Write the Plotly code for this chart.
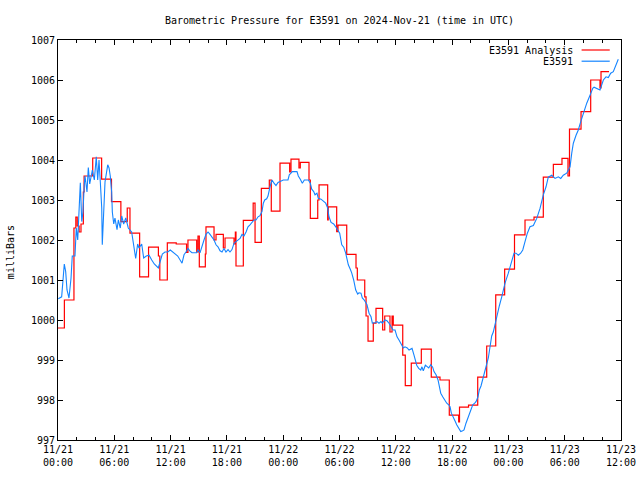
import pandas as pd
import plotly.graph_objects as go

START = pd.Timestamp("2024-11-21 00:00")

# E3591 observed pressure (hours since 2024-11-21 00:00 UTC, millibars)
blue_hours = [0.03, 0.39, 0.67, 0.82, 0.96, 1.17, 1.39, 1.52, 1.81, 1.95, 2.1, 2.24, 2.38, 2.53, 2.66, 2.8, 2.88,
              3.09, 3.23, 3.38, 3.52, 3.66, 3.87, 4.08, 4.23, 4.37, 4.51, 4.66, 4.72, 4.87, 5.01, 5.3, 5.44, 5.57,
              5.72, 5.79, 5.94, 6.07, 6.29, 6.43, 6.64, 6.79, 7.0, 7.22, 7.49, 7.85, 8.07, 8.28, 8.49, 8.63, 8.92,
              9.13, 9.41, 9.7, 9.99, 10.26, 10.69, 10.9, 11.12, 11.4, 11.69, 11.97, 12.44, 12.76, 13.22, 13.43,
              13.64, 13.85, 14.07, 14.28, 14.78, 14.92, 15.13, 15.35, 15.56, 15.77, 15.99, 16.2, 16.41, 16.63,
              16.84, 17.05, 17.27, 17.48, 17.69, 17.9, 18.12, 18.33, 18.54, 18.76, 18.97, 19.18, 19.4, 19.61,
              19.82, 20.04, 20.25, 20.46, 20.68, 20.89, 21.1, 21.32, 21.53, 21.74, 21.88, 22.03, 22.24, 22.38,
              22.59, 22.81, 23.02, 23.23, 23.45, 23.66, 24.01, 24.51, 24.65, 24.83, 24.97, 25.47, 25.61, 25.82,
              26.04, 26.25, 26.68, 26.89, 27.04, 27.25, 27.39, 27.6, 27.74, 28.03, 28.32, 28.53, 28.74, 28.88,
              29.1, 29.38, 29.6, 29.81, 30.02, 30.24, 30.45, 30.66, 30.8, 30.94, 31.15, 31.3, 31.51, 31.73,
              31.94, 32.08, 32.29, 32.43, 32.64, 32.93, 33.15, 33.36, 33.5, 33.78, 34.0, 34.21, 34.42, 34.56,
              34.85, 35.06, 35.28, 35.49, 35.7, 35.92, 36.13, 36.34, 36.56, 36.8, 36.98, 37.22, 37.41, 37.73,
              37.94, 38.08, 38.23, 38.44, 38.66, 38.79, 38.93, 39.15, 39.36, 39.51, 39.72, 39.93, 40.07, 40.29,
              40.5, 40.64, 40.79, 41.0, 41.21, 41.43, 41.64, 41.78, 41.92, 42.13, 42.34, 42.49, 42.71, 42.92,
              43.13, 43.27, 43.48, 43.62, 43.83, 44.05, 44.2, 44.41, 44.55, 44.76, 44.9, 45.08, 45.33, 45.51,
              45.69, 45.86, 46.04, 46.22, 46.39, 46.54, 46.75, 47.03, 47.29, 47.64, 47.99, 48.35, 48.6, 48.81,
              49.06, 49.31, 49.53, 49.77, 50.02, 50.3, 50.66, 51.02, 51.37, 51.72, 52.01, 52.25, 52.62, 52.97,
              53.32, 53.58, 53.85, 54.21, 54.57, 54.75, 54.92, 55.21, 55.45, 55.71, 55.98, 56.35, 56.7, 56.99,
              57.13, 57.41, 57.76, 58.12, 58.4, 58.65, 58.9, 59.18, 59.47, 59.71]
blue_mb = [1000.53, 1000.58, 1001.4, 1001.21, 1000.75, 1000.55, 1001.05, 1001.6, 1001.6, 1002.3, 1002.0, 1002.8,
           1003.43, 1002.46, 1002.7, 1003.38, 1003.6, 1003.2, 1003.81, 1003.4, 1003.6, 1003.75, 1003.5, 1004.08,
           1003.5, 1004.0, 1003.45, 1002.8, 1001.88, 1002.6, 1003.45, 1003.88, 1003.8, 1003.6, 1003.2, 1002.7,
           1002.4, 1002.55, 1002.26, 1002.5, 1002.3, 1002.6, 1002.4, 1002.55, 1002.3, 1002.2, 1001.9, 1001.54,
           1001.9, 1001.8, 1001.9, 1001.55, 1001.6, 1001.62, 1001.5, 1001.4, 1001.3, 1001.45, 1001.65, 1001.7,
           1001.7, 1001.75, 1001.67, 1001.6, 1001.42, 1001.63, 1001.7, 1001.79, 1001.72, 1001.68, 1001.68,
           1001.76, 1001.68, 1001.88, 1002.0, 1002.14, 1002.2, 1002.14, 1002.08, 1002.0, 1001.88, 1001.83,
           1001.73, 1001.7, 1001.79, 1001.7, 1001.76, 1001.7, 1001.76, 1001.92, 1001.96, 1002.0, 1002.04,
           1002.14, 1002.1, 1002.2, 1002.33, 1002.38, 1002.45, 1002.5, 1002.5, 1002.58, 1002.61, 1002.71,
           1002.92, 1003.0, 1003.03, 1003.1, 1003.33, 1003.5, 1003.42, 1003.36, 1003.44, 1003.47, 1003.5,
           1003.5, 1003.63, 1003.67, 1003.71, 1003.71, 1003.6, 1003.52, 1003.42, 1003.5, 1003.5, 1003.42,
           1003.27, 1003.21, 1003.13, 1003.17, 1003.04, 1003.02, 1002.96, 1002.92, 1002.8, 1002.58, 1002.44,
           1002.4, 1002.33, 1002.25, 1002.17, 1001.88, 1001.82, 1001.67, 1001.5, 1001.38, 1001.27, 1001.18,
           1001.0, 1000.75, 1000.65, 1000.68, 1000.67, 1000.55, 1000.5, 1000.38, 1000.17, 1000.08, 999.92,
           999.93, 999.96, 999.92, 999.96, 999.92, 1000.0, 999.98, 999.92, 999.83, 999.75, 999.75, 999.58,
           999.5, 999.42, 999.3, 999.33, 999.3, 999.25, 999.29, 999.12, 999.0, 998.87, 998.79, 998.75, 998.83,
           998.73, 998.87, 998.83, 998.8, 998.88, 998.82, 998.71, 998.63, 998.5, 998.33, 998.17, 998.08, 998.0,
           997.92, 997.88, 997.83, 997.67, 997.58, 997.46, 997.38, 997.29, 997.21, 997.23, 997.25, 997.42,
           997.5, 997.63, 997.79, 997.88, 997.92, 997.96, 998.08, 998.25, 998.35, 998.55, 998.75, 998.9,
           999.05, 999.3, 999.6, 999.7, 999.87, 1000.1, 1000.35, 1000.58, 1000.92, 1001.17, 1001.5, 1001.67,
           1001.67, 1001.62, 1001.67, 1001.75, 1001.96, 1002.17, 1002.33, 1002.36, 1002.54, 1002.79, 1003.13,
           1003.33, 1003.57, 1003.62, 1003.54, 1003.58, 1003.54, 1003.62, 1003.67, 1003.83, 1004.17, 1004.42,
           1004.62, 1004.75, 1004.96, 1005.17, 1005.42, 1005.62, 1005.79, 1005.82, 1005.79, 1005.75, 1006.0,
           1006.08, 1006.06, 1006.17, 1006.21, 1006.38, 1006.52]

# E3591 Analysis (step values starting at each time)
red_hours = [0.0, 0.68, 1.7, 1.9, 2.05, 2.25, 2.45, 2.7, 2.78, 3.7, 4.65, 5.7, 6.7, 7.38, 7.67, 8.7, 9.65,
             10.7, 10.85, 11.65, 12.6, 13.7, 13.85, 14.78, 14.92, 15.06, 15.7, 15.77, 16.63, 16.84, 17.62, 17.8,
             18.76, 18.9, 18.97, 19.75, 20.8, 21.0, 21.67, 22.52, 22.73, 23.66, 24.69, 24.83, 25.68, 25.82,
             26.75, 26.89, 27.68, 27.82, 28.74, 28.8, 29.7, 29.84, 30.77, 31.76, 31.9, 32.69, 32.83, 33.04,
             33.6, 33.89, 34.6, 34.82, 35.38, 35.6, 35.73, 36.74, 37.01, 37.65, 38.72, 39.78, 40.71, 41.7,
             42.7, 42.79, 43.75, 44.73, 45.69, 46.65, 47.6, 48.65, 49.77, 50.73, 51.72, 52.79, 53.71, 54.35,
             54.51, 55.74, 56.77, 57.76, 57.87, 58.72]
red_mb = [999.8, 1000.5, 1002.3, 1002.57, 1002.35, 1002.2, 1002.4, 1003.2, 1003.6, 1004.05, 1003.52, 1002.96,
          1002.46, 1002.8, 1002.17, 1001.08, 1001.82, 1001.6, 1001.0, 1001.93, 1001.9, 1001.69, 1002.0, 1001.7,
          1002.1, 1001.33, 1001.65, 1002.33, 1002.0, 1002.14, 1001.8, 1002.05, 1001.9, 1002.2, 1001.35,
          1002.49, 1002.92, 1001.94, 1003.29, 1003.5, 1002.72, 1003.92, 1003.7, 1004.02, 1003.8, 1003.94,
          1003.5, 1002.54, 1003.0, 1003.38, 1002.5, 1002.83, 1002.21, 1002.37, 1001.64, 1001.3, 1001.0,
          1000.58, 1000.1, 999.47, 999.92, 1000.29, 999.75, 1000.1, 999.7, 1000.1, 999.87, 999.12, 998.36,
          998.92, 999.27, 998.57, 998.5, 997.62, 997.45, 997.82, 997.87, 998.57, 999.35, 1000.63, 1001.27,
          1002.13, 1002.5, 1002.57, 1003.57, 1003.89, 1004.04, 1003.6, 1004.77, 1005.21, 1006.0, 1005.8,
          1006.21, 1006.21]

x_tick_times = ["2024-11-21 00:00", "2024-11-21 06:00", "2024-11-21 12:00", "2024-11-21 18:00",
                "2024-11-22 00:00", "2024-11-22 06:00", "2024-11-22 12:00", "2024-11-22 18:00",
                "2024-11-23 00:00", "2024-11-23 06:00", "2024-11-23 12:00"]
x_tick_labels = ["11/21<br>00:00", "11/21<br>06:00", "11/21<br>12:00", "11/21<br>18:00",
                 "11/22<br>00:00", "11/22<br>06:00", "11/22<br>12:00", "11/22<br>18:00",
                 "11/23<br>00:00", "11/23<br>06:00", "11/23<br>12:00"]
y_ticks = [997, 998, 999, 1000, 1001, 1002, 1003, 1004, 1005, 1006, 1007]

series_names = ["E3591 Analysis", "E3591"]
RED = "#ff0000"
BLUE = "#1484ff"
FONT = "DejaVu Sans Mono"

blue_t = START + pd.to_timedelta(blue_hours, unit="h")
red_t = START + pd.to_timedelta(red_hours, unit="h")
x_range = [pd.Timestamp(x_tick_times[0]), pd.Timestamp(x_tick_times[-1])]
x_tickvals = [pd.Timestamp(t) for t in x_tick_times]

fig = go.Figure()
fig.add_trace(go.Scatter(x=red_t, y=red_mb, mode="lines", line=dict(color=RED, width=1.2, shape="hv"),
                         name=series_names[0]))
fig.add_trace(go.Scatter(x=blue_t, y=blue_mb, mode="lines", line=dict(color=BLUE, width=1.1),
                         name=series_names[1]))
# invisible trace so that the top (mirrored) time axis is drawn
fig.add_trace(go.Scatter(x=blue_t, y=blue_mb, mode="lines", line=dict(width=0), opacity=0,
                         xaxis="x2", yaxis="y", hoverinfo="skip", showlegend=False))

axis_common = dict(showline=True, linecolor="black", linewidth=1, ticks="inside",
                   tickcolor="black", showgrid=False, zeroline=False, automargin=False,
                   tickfont=dict(family=FONT, size=10, color="black"))
minor_x = dict(ticks="inside", ticklen=3, dtick=2 * 3600 * 1000, tick0=x_tick_times[0], tickcolor="black")

fig.update_layout(
    xaxis=dict(range=x_range, tickmode="array", tickvals=x_tickvals, ticktext=x_tick_labels, ticklen=5,
               minor=minor_x, mirror=True, **axis_common),
    xaxis2=dict(range=x_range, tickmode="array", tickvals=x_tickvals, ticklen=5, minor=minor_x,
                overlaying="x", side="top", anchor="y", showticklabels=False, **axis_common),
    yaxis=dict(range=[y_ticks[0], y_ticks[-1]], tickmode="array", tickvals=y_ticks,
               ticktext=[str(v) for v in y_ticks], ticklen=5, mirror="ticks", **axis_common),
)

# gnuplot-style key: text right-aligned, line sample on the right
key_y = [0.975, 0.947]
colors = [RED, BLUE]
for name, ky, col in zip(series_names, key_y, colors):
    fig.add_annotation(xref="paper", yref="paper", x=0.919, y=ky, text=name, showarrow=False,
                       xanchor="right", yanchor="middle", font=dict(family=FONT, size=10, color="black"))
    fig.add_shape(type="line", xref="paper", yref="paper", x0=0.93, x1=0.98, y0=ky, y1=ky,
                  line=dict(color=col, width=1.2))

fig.add_annotation(xref="paper", yref="paper", x=-0.085, y=0.47, text="milliBars", showarrow=False,
                   textangle=-90, xanchor="center", yanchor="middle",
                   font=dict(family=FONT, size=10, color="black"))

fig.update_layout(
    width=640, height=480,
    margin=dict(l=58, r=19, t=40, b=40, autoexpand=False),
    paper_bgcolor="white", plot_bgcolor="white",
    showlegend=False,
    title=dict(text="Barometric Pressure for E3591 on 2024-Nov-21 (time in UTC)", x=0.5, xref="paper",
               xanchor="center", y=1 - 20 / 480, yref="container", yanchor="middle",
               font=dict(family=FONT, size=10, color="black")),
)

fig.write_html("out.html", config={"displayModeBar": False},
               post_script="document.body.style.margin='0px';")
